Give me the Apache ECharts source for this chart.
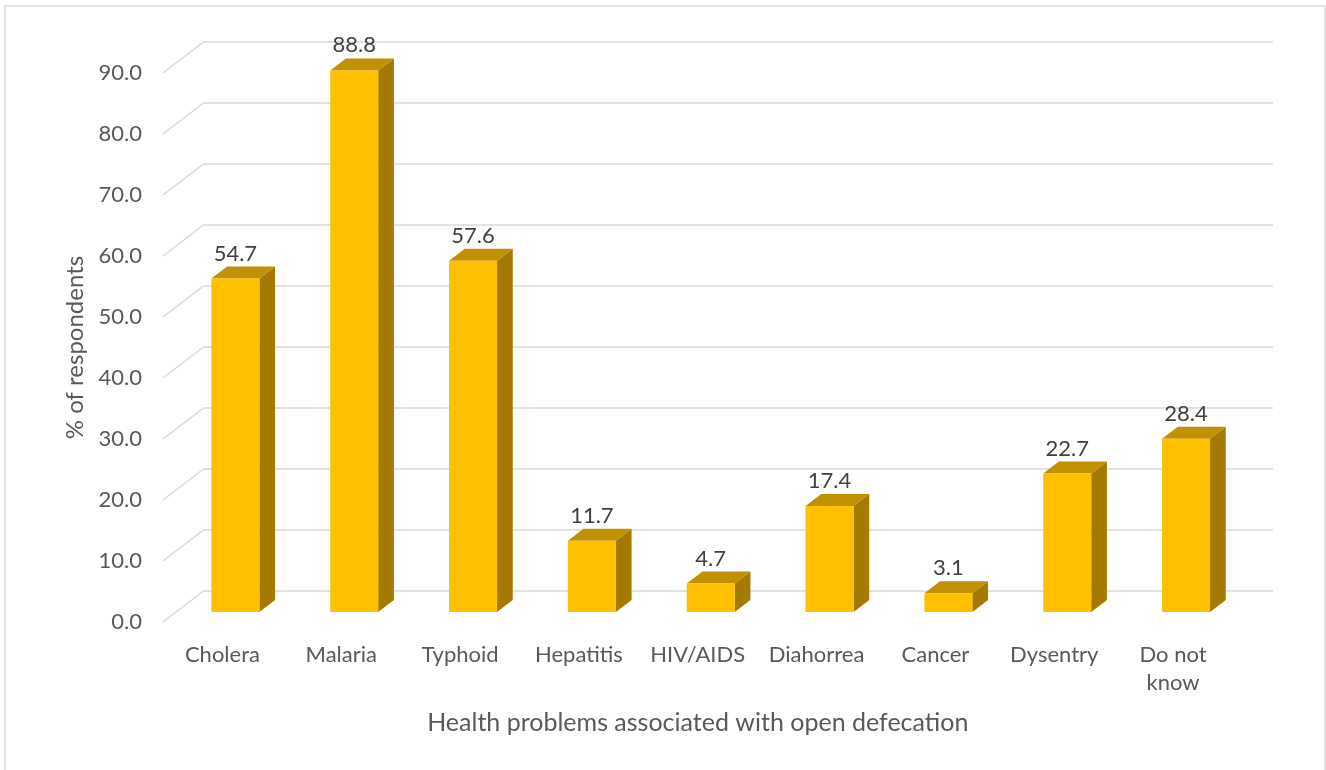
<!DOCTYPE html>
<html>
<head>
<meta charset="utf-8">
<script src="https://cdn.jsdelivr.net/npm/echarts@6/dist/echarts.min.js"></script>
<style>
  html, body { margin: 0; padding: 0; background: #fff; }
  #chart { width: 1326px; height: 770px; }
</style>
</head>
<body>
<div id="chart"></div>
<script>
// data
const categories = ['Cholera', 'Malaria', 'Typhoid', 'Hepatitis', 'HIV/AIDS', 'Diahorrea', 'Cancer', 'Dysentry', 'Do not\nknow'];
const values = [54.7, 88.8, 57.6, 11.7, 4.7, 17.4, 3.1, 22.7, 28.4];
const yTicks = [0, 10, 20, 30, 40, 50, 60, 70, 80, 90];

const yMin = 0, yMax = 90, yStep = 10;

// 3d look: front wall, back wall and bar plane are the same grid shifted
const FRONT = { left: 163, right: 93.5, top: 73, bottom: 148 };
const DEPTH = [40.5, -31];      // front wall -> back wall
const BAR_POS = 0.32;           // where the bars stand between front and back
const BAR_DEPTH = [15.7, -12];  // thickness of a bar
const BAR_WIDTH = 0.404;        // share of a category band

const shiftGrid = (g, k) => ({
  left: g.left + DEPTH[0] * k,
  right: g.right - DEPTH[0] * k,
  top: g.top + DEPTH[1] * k,
  bottom: g.bottom - DEPTH[1] * k
});

const FONT = 'Lato';
const TEXT = '#595959';

const chart = echarts.init(document.getElementById('chart'));

const valueAxis = (idx) => ({
  type: 'value',
  gridIndex: idx,
  min: yMin,
  max: yMax,
  interval: yStep,
  axisLine: { show: false },
  axisTick: { show: false },
  splitLine: { show: false },
  axisLabel: { show: false }
});

const option = {
  backgroundColor: '#fff',
  animation: false,
  graphic: [{
    type: 'rect',
    shape: { x: 5, y: 6, width: 1320, height: 770 },
    style: { fill: 'none', stroke: '#d9d9d9', lineWidth: 1.5 },
    silent: true
  }],
  grid: [
    Object.assign({}, FRONT),
    shiftGrid(FRONT, 1),
    shiftGrid(FRONT, BAR_POS)
  ],
  xAxis: [
    {
      type: 'category', gridIndex: 0, data: categories,
      axisLine: { show: false }, axisTick: { show: false },
      axisLabel: { color: TEXT, fontFamily: FONT, fontSize: 22, margin: 19, lineHeight: 28, interval: 0 },
      name: 'Health problems associated with open defecation',
      nameLocation: 'middle', nameGap: 88,
      nameTextStyle: { color: TEXT, fontFamily: FONT, fontSize: 25 }
    },
    { type: 'category', gridIndex: 1, data: categories, show: false },
    { type: 'category', gridIndex: 2, data: categories, show: false }
  ],
  yAxis: [
    Object.assign(valueAxis(0), {
      axisLabel: {
        show: true, color: TEXT, fontFamily: FONT, fontSize: 22, margin: 21,
        formatter: v => v.toFixed(1)
      },
      name: '% of respondents',
      nameLocation: 'middle', nameGap: 74,
      nameTextStyle: { color: TEXT, fontFamily: FONT, fontSize: 24 }
    }),
    Object.assign(valueAxis(1), {
      splitLine: { show: true, lineStyle: { color: '#d9d9d9', width: 1.5 } }
    }),
    valueAxis(2)
  ],
  series: [
    {
      // slanted grid lines on the side wall
      type: 'custom',
      xAxisIndex: 0, yAxisIndex: 0,
      data: yTicks.map(v => [0, v]),
      silent: true,
      renderItem: (params, api) => {
        const y = api.coord([0, api.value(1)])[1];
        const x = params.coordSys.x;
        return {
          type: 'line',
          shape: { x1: x, y1: y, x2: x + DEPTH[0], y2: y + DEPTH[1] },
          style: { stroke: '#d9d9d9', lineWidth: 1.5 }
        };
      }
    },
    {
      type: 'custom',
      xAxisIndex: 2, yAxisIndex: 2,
      data: values.map((v, i) => [i, v]),
      renderItem: (params, api) => {
        const i = api.value(0), v = api.value(1);
        const top = api.coord([i, v]);
        const base = api.coord([i, 0]);
        const w = api.size([1, 0])[0] * BAR_WIDTH;
        const xl = top[0] - w / 2, xr = top[0] + w / 2;
        const [dx, dy] = BAR_DEPTH;
        return {
          type: 'group',
          children: [
            {
              type: 'polygon',
              shape: { points: [[xr, top[1]], [xr + dx, top[1] + dy], [xr + dx, base[1] + dy], [xr, base[1]]] },
              style: { fill: '#a47b00' }
            },
            {
              type: 'polygon',
              shape: { points: [[xl, top[1]], [xl + dx, top[1] + dy], [xr + dx, top[1] + dy], [xr, top[1]]] },
              style: { fill: '#c09100' }
            },
            {
              type: 'rect',
              shape: { x: xl, y: top[1], width: w, height: base[1] - top[1] },
              style: { fill: '#ffc000' }
            },
            {
              type: 'text',
              x: top[0], y: top[1] + dy - 2,
              style: {
                text: v.toFixed(1), fill: '#404040', font: '22px ' + FONT,
                align: 'center', verticalAlign: 'bottom'
              }
            }
          ]
        };
      }
    }
  ]
};

chart.setOption(option);
window.addEventListener('resize', () => chart.resize());
</script>
</body>
</html>
